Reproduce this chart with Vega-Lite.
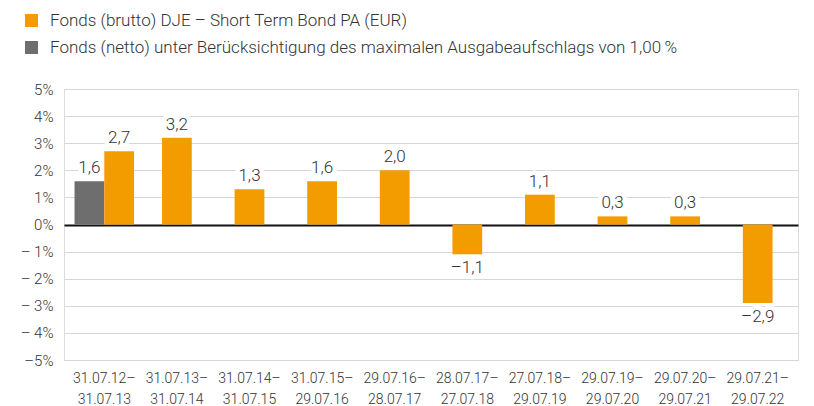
{
  "$schema": "https://vega.github.io/schema/vega-lite/v6.json",
  "width": 734,
  "height": 271,
  "autosize": {"type": "none"},
  "padding": {"left": 64, "top": 89, "right": 16, "bottom": 46},
  "background": "white",
  "data": {
    "values": [
      {"cat": "31.07.12–31.07.13", "series": "Fonds (netto) unter Berücksichtigung des maximalen Ausgabeaufschlags von 1,00\u2009%", "value": 1.6},
      {"cat": "31.07.12–31.07.13", "series": "Fonds (brutto) DJE – Short Term Bond PA (EUR)", "value": 2.7},
      {"cat": "31.07.13–31.07.14", "series": "Fonds (brutto) DJE – Short Term Bond PA (EUR)", "value": 3.2},
      {"cat": "31.07.14–31.07.15", "series": "Fonds (brutto) DJE – Short Term Bond PA (EUR)", "value": 1.3},
      {"cat": "31.07.15–29.07.16", "series": "Fonds (brutto) DJE – Short Term Bond PA (EUR)", "value": 1.6},
      {"cat": "29.07.16–28.07.17", "series": "Fonds (brutto) DJE – Short Term Bond PA (EUR)", "value": 2.0},
      {"cat": "28.07.17–27.07.18", "series": "Fonds (brutto) DJE – Short Term Bond PA (EUR)", "value": -1.1},
      {"cat": "27.07.18–29.07.19", "series": "Fonds (brutto) DJE – Short Term Bond PA (EUR)", "value": 1.1},
      {"cat": "29.07.19–29.07.20", "series": "Fonds (brutto) DJE – Short Term Bond PA (EUR)", "value": 0.3},
      {"cat": "29.07.20–29.07.21", "series": "Fonds (brutto) DJE – Short Term Bond PA (EUR)", "value": 0.3},
      {"cat": "29.07.21–29.07.22", "series": "Fonds (brutto) DJE – Short Term Bond PA (EUR)", "value": -2.9}
    ]
  },
  "transform": [
    {"joinaggregate": [{"op": "count", "as": "n"}], "groupby": ["cat"]},
    {"calculate": "(datum.value < 0 ? '–' : '') + replace(format(abs(datum.value), '.1f'), '.', ',')", "as": "lbl"}
  ],
  "encoding": {
    "x": {
      "field": "cat", "type": "nominal",
      "sort": ["31.07.12–31.07.13", "31.07.13–31.07.14", "31.07.14–31.07.15", "31.07.15–29.07.16", "29.07.16–28.07.17", "28.07.17–27.07.18", "27.07.18–29.07.19", "29.07.19–29.07.20", "29.07.20–29.07.21", "29.07.21–29.07.22"],
      "scale": {"paddingInner": 0.18, "paddingOuter": 0.145},
      "axis": {
        "title": null, "labelAngle": 0, "domain": false, "ticks": false,
        "labelExpr": "[substring(datum.label, 0, 9), substring(datum.label, 9)]",
        "labelFontSize": 14, "labelLineHeight": 21, "labelPadding": 11,
        "labelColor": "#333333", "labelFont": "Roboto", "labelFontWeight": 300
      }
    },
    "y": {
      "field": "value", "type": "quantitative",
      "scale": {"domain": [-5, 5], "nice": false},
      "axis": {
        "title": null, "values": [-5, -4, -3, -2, -1, 0, 1, 2, 3, 4, 5],
        "domain": false, "ticks": false, "labelPadding": 11,
        "labelExpr": "datum.value < 0 ? (datum.value == -5 ? '–5%' : '– ' + abs(datum.value) + '%') : datum.value + '%'",
        "labelFontSize": 15, "labelColor": "#333333", "labelFont": "Roboto", "labelFontWeight": 300,
        "grid": true,
        "gridColor": {"condition": {"test": "datum.value === 0", "value": "#111111"}, "value": "#d6d6d6"},
        "gridWidth": {"condition": {"test": "datum.value === 0", "value": 2}, "value": 1}
      }
    }
  },
  "layer": [
    {
      "transform": [{"filter": "datum.n > 1"}],
      "mark": {"type": "text", "baseline": "alphabetic", "dy": -8, "fontSize": 17, "font": "Roboto", "fontWeight": 300, "fill": "white", "stroke": "white", "strokeWidth": 9, "strokeJoin": "round"},
      "encoding": {"xOffset": {"field": "series", "scale": {"domain": ["Fonds (netto) unter Berücksichtigung des maximalen Ausgabeaufschlags von 1,00\u2009%", "Fonds (brutto) DJE – Short Term Bond PA (EUR)"], "paddingInner": 0, "paddingOuter": 0}}, "text": {"field": "lbl"}}
    },
    {
      "transform": [{"filter": "datum.n == 1 && datum.value >= 0"}],
      "mark": {"type": "text", "baseline": "alphabetic", "dy": -8, "fontSize": 17, "font": "Roboto", "fontWeight": 300, "fill": "white", "stroke": "white", "strokeWidth": 9, "strokeJoin": "round"},
      "encoding": {"text": {"field": "lbl"}}
    },
    {
      "transform": [{"filter": "datum.n == 1 && datum.value < 0"}],
      "mark": {"type": "text", "baseline": "top", "dy": 6, "fontSize": 17, "font": "Roboto", "fontWeight": 300, "fill": "white", "stroke": "white", "strokeWidth": 9, "strokeJoin": "round"},
      "encoding": {"text": {"field": "lbl"}}
    },
    {
      "transform": [{"filter": "datum.n > 1"}],
      "mark": {"type": "bar"},
      "encoding": {
        "xOffset": {"field": "series", "scale": {"domain": ["Fonds (netto) unter Berücksichtigung des maximalen Ausgabeaufschlags von 1,00\u2009%", "Fonds (brutto) DJE – Short Term Bond PA (EUR)"], "paddingInner": 0, "paddingOuter": 0}},
        "color": {
          "field": "series", "type": "nominal",
          "scale": {"domain": ["Fonds (brutto) DJE – Short Term Bond PA (EUR)", "Fonds (netto) unter Berücksichtigung des maximalen Ausgabeaufschlags von 1,00\u2009%"], "range": ["#F39C00", "#6E6E6E"]},
          "legend": {
            "title": null, "orient": "none", "legendX": -41, "legendY": -77,
            "symbolType": "square", "symbolSize": 169, "symbolStrokeWidth": 0,
            "labelFontSize": 17, "labelFont": "Roboto", "labelFontWeight": 300, "labelColor": "#333333",
            "labelOffset": 10, "rowPadding": 9, "labelLimit": 0
          }
        }
      }
    },
    {
      "transform": [{"filter": "datum.n == 1"}],
      "mark": {"type": "bar", "width": {"band": 0.5}},
      "encoding": {
        "color": {"field": "series", "type": "nominal"}
      }
    },
    {
      "transform": [{"filter": "datum.n > 1"}],
      "mark": {"type": "text", "baseline": "alphabetic", "dy": -8, "fontSize": 17, "font": "Roboto", "fontWeight": 300, "fill": "#333333"},
      "encoding": {"xOffset": {"field": "series", "scale": {"domain": ["Fonds (netto) unter Berücksichtigung des maximalen Ausgabeaufschlags von 1,00\u2009%", "Fonds (brutto) DJE – Short Term Bond PA (EUR)"], "paddingInner": 0, "paddingOuter": 0}}, "text": {"field": "lbl"}}
    },
    {
      "transform": [{"filter": "datum.n == 1 && datum.value >= 0"}],
      "mark": {"type": "text", "baseline": "alphabetic", "dy": -8, "fontSize": 17, "font": "Roboto", "fontWeight": 300, "fill": "#333333"},
      "encoding": {"text": {"field": "lbl"}}
    },
    {
      "transform": [{"filter": "datum.n == 1 && datum.value < 0"}],
      "mark": {"type": "text", "baseline": "top", "dy": 6, "fontSize": 17, "font": "Roboto", "fontWeight": 300, "fill": "#333333"},
      "encoding": {"text": {"field": "lbl"}}
    }
  ]
}
